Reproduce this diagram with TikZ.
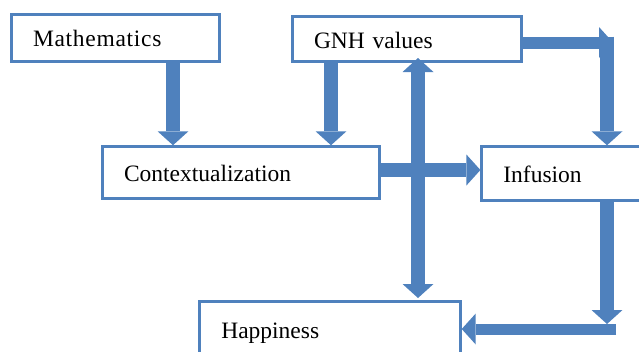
\documentclass[tikz,border=0pt]{standalone}
\usepackage{fontspec}
\setmainfont{Liberation Serif}
\usetikzlibrary{arrows.meta}
\definecolor{flowblue}{RGB}{79,129,189}
\begin{document}
\begin{tikzpicture}[x=1pt, y=-1pt,
  >={Triangle[width=31pt, length=14pt, line width=0pt]},
  box/.style={draw=flowblue, line width=3pt, inner xsep=21.5pt, inner ysep=0pt, align=left,
    text height=18pt, text depth=0pt, font=\fontsize{23.5}{28}\selectfont},
  flow/.style={draw=flowblue, line width=13.5pt, ->}]
\useasboundingbox (0,0) rectangle (639,351);
\clip (0,0) rectangle (639,351);
\node[box, text width=165pt, minimum height=47.5pt] (math) at (115.5,37.75) {\addfontfeature{LetterSpace=3}Mathematics};
\node[box, text width=185.5pt, minimum height=45pt] (gnh) at (406.75,39) {GNH values};
\node[box, text width=234pt, minimum height=51.7pt] (ctx) at (241,172.6) {Contextualization};
\node[box, text width=125pt, minimum height=53.4pt] (inf) at (565.9,173.5) {Infusion};
\node[box, text width=217.4pt, minimum height=56pt] (hap) at (330,329.5) {Happiness};
\coordinate (gnhturn) at (613,42.5);
\coordinate (gnhdrop) at (607,36.5);
\coordinate (infturn) at (607,324);
\coordinate (hapturn) at (616,329);
\draw[flow] (173,0 |- math.south) -- (173,0 |- ctx.north);
\draw[flow] (331,0 |- gnh.south) -- (331,0 |- ctx.north);
\draw[flow, <->, shorten <=-5pt, shorten >=2pt] (418,0 |- gnh.south) -- (418,0 |- hap.north);
\draw[flow] (0,170 -| ctx.east) -- (0,170 -| inf.west);
\draw[flow, line width=12pt] (0,42.5 -| gnh.east) -- (gnhturn);
\draw[flow] (gnhdrop) -- (gnhdrop |- inf.north);
\draw[flow] (infturn |- inf.south) -- (infturn);
\draw[flow, line width=11pt] (hapturn) -- (hapturn -| hap.east);
\end{tikzpicture}
\end{document}
